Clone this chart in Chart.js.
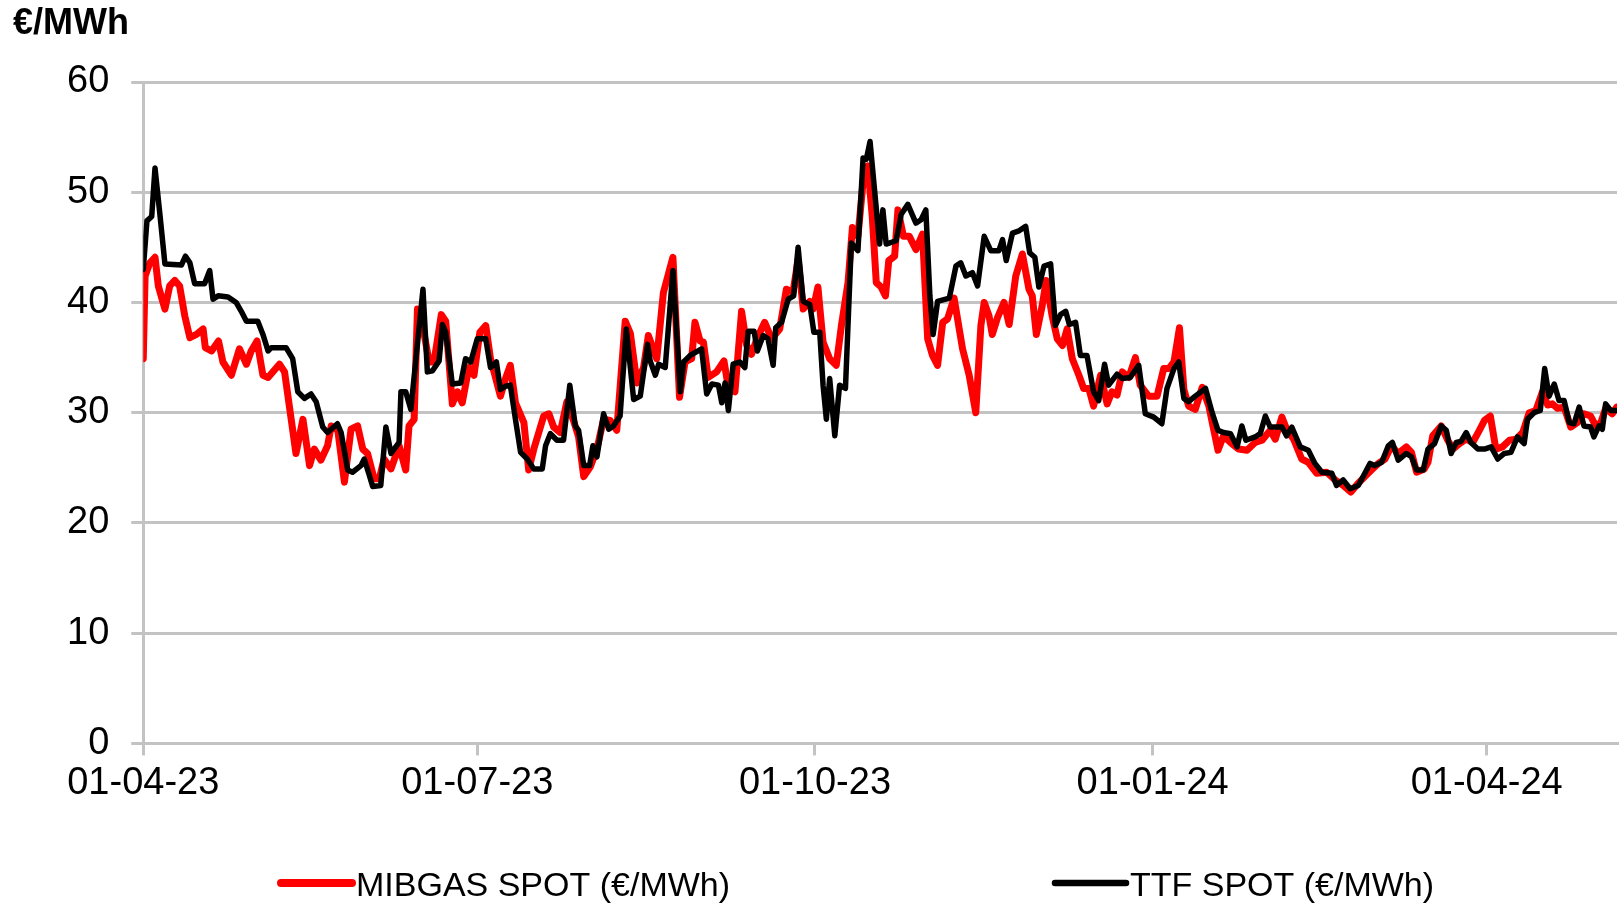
<!DOCTYPE html>
<html>
<head>
<meta charset="utf-8">
<script src="https://cdn.jsdelivr.net/npm/chart.js@4.4.1/dist/chart.umd.min.js"></script>
<style>
  html, body { margin: 0; padding: 0; background: #fff; }
</style>
</head>
<body>
<canvas id="gasChart" width="1622" height="908"></canvas>
<script>
// --- Data (x = days since 01-04-23)
const unitLabel = "€/MWh";
const tickDays = [0, 91, 183, 275, 366];
const tickLabels = ["01-04-23", "01-07-23", "01-10-23", "01-01-24", "01-04-24"];

const mibgasLabel = "MIBGAS SPOT (€/MWh)";
const mibgasDays = [0, 0.5, 1.8, 3.2, 4.1, 5.9, 7.2, 8.6, 9.9, 11.3, 12.7, 14.5, 16.3, 16.9, 18.6, 20.5, 21.7, 24.0, 26.2, 28.1, 29.4, 31.0, 32.6, 34.0, 37.1, 38.5, 40.3, 41.6, 43.5, 45.3, 46.6, 48.4, 50.2, 51.2, 53.0, 54.8, 56.6, 58.4, 59.8, 61.1, 62.9, 64.3, 65.6, 67.5,
  69.7, 71.5, 72.4, 73.8, 74.7, 76.1, 77.9, 79.2, 81.2, 82.4, 84.2, 85.6, 86.9, 88.7, 90.1, 91.7, 93.3, 94.6, 97.3, 98.7, 100.0, 101.4, 103.7, 105.0, 106.4, 109.1, 110.5, 111.8, 113.6, 115.4, 117.3, 118.6, 120.0, 121.8, 123.6, 125.4, 127.2, 129.0, 131.3, 132.7, 134.5, 136.3, 137.6,
  139.9, 141.7, 144.3, 146.1, 147.6, 149.4, 150.3, 151.7, 152.6, 153.9, 156.2, 158.2, 159.4, 161.2, 163.0, 164.4, 165.7, 167.3, 169.3, 171.2, 173.4, 175.2, 177.0, 178.4, 179.8, 181.6, 182.5, 183.8, 185.2, 187.0, 188.8, 190.2, 192.0, 193.2, 194.7, 196.1, 197.4, 198.6, 199.7, 201.0, 202.2, 203.1, 204.7, 205.6, 207.1, 208.7,
  210.5, 212.3, 213.7, 215.0, 216.4, 217.8, 219.1, 220.9, 223.2, 225.0, 226.8, 228.2, 229.1, 230.4, 231.3, 232.7, 234.5, 235.9, 237.7, 239.5, 241.3, 242.2, 243.3, 244.9, 246.0, 247.6, 249.0, 250.4, 251.7, 253.1, 254.9, 256.2, 257.6, 258.9, 260.8, 262.6, 263.9, 265.3, 266.7, 268.5, 270.3, 271.6, 273.9, 276.2, 278.0, 279.4, 280.8,
  282.3, 283.5, 284.8, 286.6, 288.5, 290.3, 292.8, 294.3, 296.2, 298.4, 300.7, 302.9, 304.8, 307.0, 308.4, 310.2, 311.5, 313.4, 315.6, 317.4, 319.7, 322.4, 324.7, 326.9, 329.0, 331.0, 332.8, 334.6, 336.5, 338.3, 340.1, 341.9, 344.1, 345.5, 346.9, 349.0, 350.0,
  351.3, 353.6, 355.4, 356.8, 358.6, 360.4, 362.2, 364.0, 365.4, 367.0, 368.5, 370.3, 372.2, 374.0, 375.8, 377.6, 379.4, 381.2, 382.6, 383.9, 385.3, 387.1, 388.9, 390.7, 392.5, 394.3, 395.7, 397.1, 398.4, 400.2, 401.4];
const mibgasValues = [34.9, 42.4, 43.6, 44.1, 41.5, 39.4, 41.5, 42.0, 41.5, 38.8, 36.8, 37.1, 37.6, 35.9, 35.6, 36.5, 34.6, 33.4, 35.8, 34.4, 35.6, 36.5, 33.4, 33.2, 34.4, 33.7, 29.4, 26.3, 29.4, 25.2, 26.7, 25.7, 27.0, 28.8, 28.4, 23.7, 28.5, 28.8, 26.7, 26.3, 24.0, 24.0, 25.8, 24.9,
  27.0, 24.8, 28.8, 29.4, 39.4, 37.9, 34.6, 34.6, 38.9, 38.3, 30.8, 31.9, 30.9, 34.1, 33.4, 37.3, 37.9, 34.9, 31.5, 33.1, 34.3, 30.9, 29.1, 24.8, 26.7, 29.7, 29.9, 28.7, 28.2, 31.0, 29.2, 27.8, 24.2, 25.1, 26.7, 29.4, 29.3, 28.4, 38.3, 37.2, 32.7, 34.1, 37.0,
  34.9, 40.9, 44.1, 31.4, 34.6, 34.9, 38.2, 36.5, 36.4, 33.2, 33.7, 34.7, 32.3, 31.9, 39.2, 36.1, 35.3, 36.8, 38.2, 36.7, 37.6, 41.2, 40.9, 43.9, 39.4, 40.1, 39.4, 41.4, 36.4, 34.9, 34.3, 37.9, 41.8, 46.8, 46.0, 50.9, 52.4, 47.8, 41.8, 41.4, 40.6, 43.8, 44.2, 48.4, 46.0, 46.0,
  44.8, 46.2, 36.7, 35.2, 34.3, 38.2, 38.5, 40.4, 35.8, 33.4, 30.0, 37.9, 40.0, 38.8, 37.1, 38.6, 40.0, 38.0, 42.4, 44.4, 41.2, 40.6, 37.1, 39.7, 42.0, 38.8, 36.7, 36.1, 37.6, 34.9, 33.4, 32.2, 32.2, 30.6, 33.4, 30.8, 31.9, 31.6, 33.7, 33.2, 35.0, 32.5, 31.5, 31.5, 34.0, 34.0, 34.6,
  37.7, 32.1, 30.6, 30.3, 32.3, 30.6, 26.6, 27.9, 27.3, 26.7, 26.6, 27.3, 27.5, 28.4, 27.6, 29.6, 28.5, 27.6, 25.8, 25.5, 24.5, 24.6, 23.9, 23.4, 22.8, 23.6, 24.2, 24.8, 25.4, 25.8, 27.0, 26.3, 26.9, 26.4, 24.6, 24.9, 25.5,
  27.9, 28.8, 27.5, 26.7, 27.2, 27.6, 27.3, 28.4, 29.3, 29.7, 26.7, 26.9, 27.5, 27.6, 28.2, 30.0, 30.2, 31.9, 30.7, 30.8, 30.4, 30.5, 28.7, 29.1, 29.9, 29.7, 28.8, 29.1, 30.4, 29.9, 30.5];

const ttfLabel = "TTF SPOT (€/MWh)";
const ttfDays = [0, 1, 2.3, 3.2, 4.5, 5.9, 10.4, 11.5, 12.7, 14.0, 16.7, 18.1, 19.0, 20.4, 23.1, 25.3, 26.7, 28.1, 31.2, 32.6, 34.0, 34.9, 38.9, 40.7, 42.1, 43.9, 45.7, 47.1, 48.9, 50.2, 52.9, 53.9, 55.7, 57.0, 59.3, 60.2, 61.6, 62.5, 64.7, 66.1, 67.5, 68.8,
  69.7, 70.2, 71.5, 72.9, 74.2, 76.2, 77.4, 78.8, 80.6, 81.5, 82.4, 84.2, 86.5, 87.8, 89.2, 91.0, 93.3, 94.6, 96.2, 97.3, 98.7, 100.0, 101.4, 102.8, 104.6, 106.4, 108.7, 109.6, 110.9, 112.7, 114.5, 116.2, 117.7, 118.6, 120.0, 121.6, 122.5, 123.6, 125.4, 126.8, 128.1, 129.9, 131.6, 133.6, 135.4, 137.4,
  138.1, 139.5, 140.4, 142.2, 144.3, 146.3, 147.2, 149.0, 152.1, 153.5, 154.9, 156.7, 157.6, 158.5, 159.4, 160.7, 162.5, 163.9, 164.8, 166.4, 167.3, 168.9, 170.2, 171.6, 172.3, 173.9, 175.7, 177.2, 178.4, 179.8, 181.6, 182.7, 184.3, 185.2, 186.1, 187.0, 188.4, 189.7, 191.3, 192.9, 194.7, 196.1, 197.0, 198.0, 200.6, 201.5, 202.4, 205.1, 206.5, 208.3,
  210.5, 211.9, 213.2, 214.3, 215.2, 216.4, 219.6, 221.4, 222.7, 224.1, 225.9, 227.3, 229.1, 230.9, 233.1, 234.1, 235.1, 236.8, 238.6, 240.4, 241.5, 242.9, 244.0, 245.4, 247.2, 248.5, 249.9, 251.3, 252.3, 254.0, 255.3, 257.1, 258.9, 260.3, 261.9, 263.0, 265.3, 266.7, 268.9, 271.2, 273.0, 275.3, 277.5, 278.9,
  280.8, 282.1, 283.5, 284.8, 286.6, 289.4, 291.2, 292.8, 294.3, 296.2, 298.0, 299.3, 300.4, 302.9, 304.3, 305.7, 307.0, 310.2, 311.5, 312.9, 315.2, 317.4, 319.2, 321.1, 323.8, 325.1, 326.9, 328.8, 331.0, 332.8, 334.2, 335.5, 337.4, 339.2, 340.3, 341.9, 344.1, 345.5, 346.9, 348.7,
  350.0, 351.8, 353.6, 355.0, 356.3, 357.7, 359.0, 360.4, 361.7, 363.6, 365.4, 367.2, 369.0, 370.8, 372.6, 374.4, 376.2, 377.1, 378.9, 380.6, 381.8, 383.0, 384.4, 385.7, 387.1, 388.5, 389.8, 391.2, 392.5, 394.3, 395.2, 396.6, 397.5, 398.4, 399.8, 401.1];
const ttfValues = [43.0, 47.4, 47.8, 52.2, 48.1, 43.5, 43.4, 44.2, 43.6, 41.7, 41.7, 42.9, 40.3, 40.6, 40.5, 40.0, 39.2, 38.3, 38.3, 37.1, 35.6, 35.9, 35.9, 34.9, 31.9, 31.3, 31.7, 31.0, 28.7, 28.2, 29.0, 28.2, 24.8, 24.6, 25.2, 25.8, 24.3, 23.3, 23.4, 28.7, 26.3, 26.9,
  27.3, 31.9, 31.9, 30.3, 34.6, 41.2, 33.7, 33.8, 34.7, 38.0, 37.3, 32.6, 32.7, 34.9, 34.6, 36.7, 36.7, 34.1, 34.6, 32.1, 32.4, 32.5, 29.4, 26.4, 25.8, 24.9, 24.9, 27.0, 28.1, 27.5, 27.5, 32.5, 28.8, 28.4, 25.2, 25.2, 27.0, 26.0, 29.9, 28.5, 28.8, 29.7, 37.6, 31.2, 31.5, 36.2,
  34.7, 33.4, 34.4, 34.1, 42.9, 31.9, 34.6, 35.2, 35.8, 31.7, 32.6, 32.5, 30.9, 32.7, 30.2, 34.4, 34.6, 34.1, 37.4, 37.4, 35.6, 37.0, 36.7, 34.3, 37.7, 38.2, 40.3, 40.6, 45.0, 40.1, 39.8, 37.3, 37.3, 32.5, 29.4, 33.1, 27.9, 32.5, 32.2, 45.4, 44.7, 53.1, 53.0, 54.6, 45.3, 48.4, 45.3, 45.6, 48.0, 48.9,
  47.2, 47.5, 48.4, 40.6, 37.1, 40.1, 40.4, 43.3, 43.6, 42.4, 42.7, 41.5, 46.0, 44.7, 44.7, 45.7, 43.8, 46.3, 46.5, 46.9, 44.5, 44.1, 41.4, 43.3, 43.5, 37.9, 38.9, 39.2, 38.0, 38.2, 35.2, 35.2, 31.9, 31.1, 34.4, 32.5, 33.5, 33.1, 33.2, 34.3, 29.9, 29.6, 29.0, 32.2,
  34.0, 34.6, 31.3, 31.0, 31.5, 32.2, 30.0, 28.4, 28.2, 28.1, 26.9, 28.8, 27.5, 27.8, 28.1, 29.7, 28.7, 28.7, 27.9, 28.7, 26.9, 26.6, 25.4, 24.6, 24.5, 23.4, 23.9, 23.1, 23.4, 24.5, 25.4, 25.2, 25.5, 27.0, 27.3, 25.7, 26.3, 26.0, 24.8, 24.8,
  26.7, 27.2, 28.8, 28.4, 26.3, 27.3, 27.4, 28.2, 27.3, 26.7, 26.7, 26.9, 25.8, 26.3, 26.4, 27.8, 27.2, 29.4, 30.0, 30.2, 34.0, 31.5, 32.6, 31.1, 31.1, 29.1, 29.0, 30.5, 28.8, 28.7, 27.8, 28.8, 28.5, 30.8, 30.2, 30.2];

const toPoints = (days, values) => days.map((d, i) => ({ x: d, y: values[i] }));

// --- Unit label at top left + legend under the axis
const extrasPlugin = {
  id: 'extras',
  afterDraw(chart) {
    const ctx = chart.ctx;
    ctx.save();
    ctx.fillStyle = '#000';
    ctx.textBaseline = 'alphabetic';
    ctx.textAlign = 'left';
    ctx.font = 'bold 36px "Liberation Sans", Arial, sans-serif';
    ctx.fillText(unitLabel, 13, 34);

    const legendX = [281, 1055];
    const lineY = 883;
    ctx.font = '34px "Liberation Sans", Arial, sans-serif';
    [0, 1].forEach(i => {
      const ds = chart.data.datasets[i];
      ctx.strokeStyle = ds.borderColor;
      ctx.lineWidth = ds.borderWidth + 1;
      ctx.lineCap = 'round';
      ctx.beginPath();
      ctx.moveTo(legendX[i], lineY);
      ctx.lineTo(legendX[i] + 71, lineY);
      ctx.stroke();
      ctx.fillText(ds.label, legendX[i] + 75, 896);
    });
    ctx.restore();
  }
};

Chart.defaults.font.family = '"Liberation Sans", Arial, sans-serif';
Chart.defaults.color = '#000';

const gridColor = '#c3c3c3';

new Chart(document.getElementById('gasChart').getContext('2d'), {
  type: 'line',
  data: {
    datasets: [
      { label: mibgasLabel, data: toPoints(mibgasDays, mibgasValues), borderColor: '#ff0000', borderWidth: 7, order: 2 },
      { label: ttfLabel, data: toPoints(ttfDays, ttfValues), borderColor: '#000000', borderWidth: 5.5, order: 1 }
    ]
  },
  options: {
    responsive: false,
    animation: false,
    parsing: false,
    layout: { padding: { left: 45, right: 5, top: 82, bottom: 97 } },
    elements: {
      point: { radius: 0 },
      line: { tension: 0, borderJoinStyle: 'round', borderCapStyle: 'round' }
    },
    plugins: { legend: { display: false }, tooltip: { enabled: false } },
    scales: {
      x: {
        type: 'linear',
        min: 0,
        max: 401.5,
        afterBuildTicks: scale => { scale.ticks = tickDays.map(v => ({ value: v })); },
        grid: { drawOnChartArea: false, drawTicks: true, tickLength: 12, color: gridColor, lineWidth: 3 },
        border: { color: gridColor, width: 3 },
        ticks: {
          autoSkip: false, maxRotation: 0, padding: 5,
          font: { size: 38 },
          callback: value => tickLabels[tickDays.indexOf(value)]
        }
      },
      y: {
        min: 0,
        max: 60,
        grid: { color: gridColor, lineWidth: 3, tickLength: 12 },
        border: { color: gridColor, width: 3 },
        ticks: { stepSize: 10, padding: 22, font: { size: 38 } }
      }
    }
  },
  plugins: [extrasPlugin]
});
</script>
</body>
</html>
